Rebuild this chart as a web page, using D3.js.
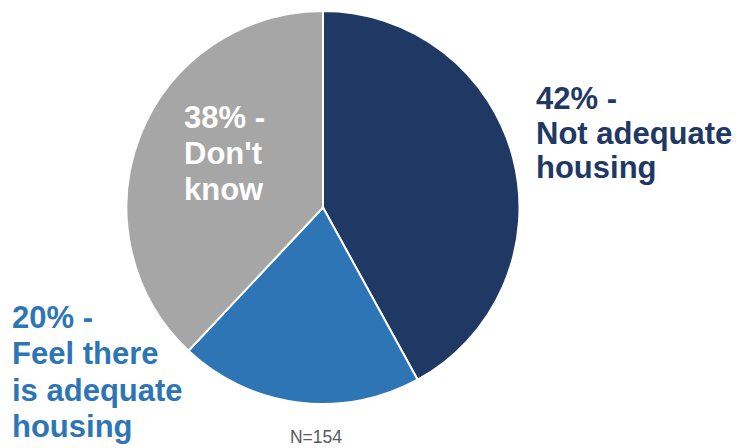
<!DOCTYPE html>
<html>
<head>
<meta charset="utf-8">
<script src="https://cdn.jsdelivr.net/npm/d3@7"></script>
<style>
  html, body { margin: 0; padding: 0; background: #fff; }
  svg { display: block; }
</style>
</head>
<body>
<div id="chart"></div>
<script>
// Survey responses: is there adequate housing?
const categories = ["Not adequate housing", "Feel there is adequate housing", "Don't know"];
const values = [42, 20, 38];
const colors = ["#1F3864", "#2E75B6", "#A6A6A6"];
const labelLines = [
  ["42% -", "Not adequate", "housing"],
  ["20% -", "Feel there", "is adequate", "housing"],
  ["38% -", "Don't", "know"]
];
const labelColors = ["#1F3864", "#2E75B6", "#FFFFFF"];
const sampleNote = "N=154";

const W = 741, H = 448;
const cx = 323, cy = 207.5, R = 196.5;

const svg = d3.select("#chart").append("svg")
  .attr("width", W).attr("height", H);

const data = categories.map((c, i) => ({ name: c, value: values[i], i }));

const pie = d3.pie().sort(null).value(d => d.value);
const arc = d3.arc().innerRadius(0).outerRadius(R);

const g = svg.append("g").attr("transform", `translate(${cx},${cy})`);
g.selectAll("path")
  .data(pie(data))
  .join("path")
  .attr("d", arc)
  .attr("fill", d => colors[d.data.i])
  .attr("stroke", "#fff")
  .attr("stroke-width", 2)
  .attr("stroke-linejoin", "round");

// Label anchors (left edge, first baseline) and line spacing
const labelPos = [
  { x: 536, y: 109, lh: 34.7 },
  { x: 12, y: 328, lh: 36.3 },
  { x: 184, y: 128, lh: 35.8 }
];

labelLines.forEach((lines, i) => {
  const t = svg.append("text")
    .attr("x", labelPos[i].x)
    .attr("y", labelPos[i].y)
    .attr("fill", labelColors[i])
    .attr("font-family", "Liberation Sans, Arial, sans-serif")
    .attr("font-weight", "bold")
    .attr("font-size", 31);
  lines.forEach((ln, k) => {
    t.append("tspan")
      .attr("x", labelPos[i].x)
      .attr("y", labelPos[i].y + k * labelPos[i].lh)
      .text(ln);
  });
});

svg.append("text")
  .attr("x", 316)
  .attr("y", 443)
  .attr("text-anchor", "middle")
  .attr("fill", "#595959")
  .attr("font-family", "Liberation Sans, Arial, sans-serif")
  .attr("font-size", 17.5)
  .text(sampleNote);
</script>
</body>
</html>
